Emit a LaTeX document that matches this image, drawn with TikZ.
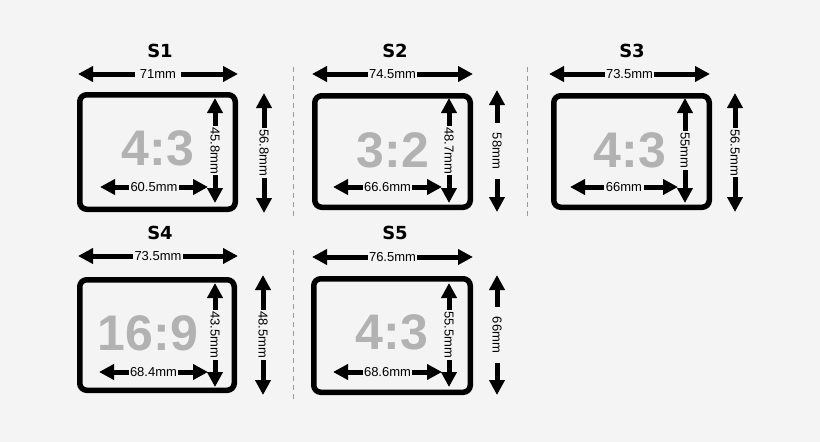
\documentclass[tikz,border=0pt]{standalone}
\usepackage{fontspec}
\setmainfont{Liberation Sans}
\newfontfamily\titlefont{DejaVu Sans}
\usetikzlibrary{arrows.meta}

\definecolor{bg}{HTML}{F4F4F4}
\definecolor{ratiogray}{HTML}{B2B2B2}
\definecolor{sepgray}{HTML}{9A9A9A}

\tikzset{
	dim/.style={line width=5pt,
		{Triangle[length=15pt,width=15pt]}-{Triangle[length=15pt,width=15pt]}},
	lab/.style={fill=bg, inner sep=1.5pt, font=\fontsize{13}{13}\selectfont},
	frame/.style={draw, line width=5.5pt, rounded corners=7pt, inner sep=0pt},
	ratio/.style={text=ratiogray, font=\bfseries\fontsize{50}{50}\selectfont},
	title/.style={font=\titlefont\bfseries\fontsize{18}{18}\selectfont},
	sep/.style={sepgray, line width=1pt, dash pattern=on 5pt off 4pt}
}

\begin{document}
\begin{tikzpicture}[x=1pt,y=-1pt]
	\fill[bg] (0,0) rectangle (820,442);
	\useasboundingbox (0,0) rectangle (820,442);

	% separators
	\draw[sep] (293,67) -- (293,217);
	\draw[sep] (527,67) -- (527,217);
	\draw[sep] (293,250) -- (293,402);

	% S1
	\node[title] (t1) at (160,51) {S1};
	\node[frame, minimum width=155.5pt, minimum height=114.5pt] (b1) at (157.5,152) {};
	\node[ratio] (r1) at (158,148) {4:3};
	\draw[dim] (78,74) coordinate (w1a) -- (238,74) coordinate (w1b) node[midway,lab,inner xsep=5pt] {71mm};
	\draw[dim] (264,93) coordinate (h1a) -- (264,213) coordinate (h1b) node[midway,lab,rotate=-90] {56.8mm};
	\draw[dim] (215,98) coordinate (v1a) -- (215,203) coordinate (v1b) node[midway,lab,rotate=-90] {45.8mm};
	\draw[dim] (100,187) coordinate (i1a) -- (208,187) coordinate (i1b) node[midway,lab] {60.5mm};

	% S2
	\node[title] (t2) at (395,51) {S2};
	\node[frame, minimum width=155.5pt, minimum height=111.5pt] (b2) at (392.5,151.5) {};
	\node[ratio] (r2) at (393,150) {3:2};
	\draw[dim] (312,74) coordinate (w2a) -- (473,74) coordinate (w2b) node[midway,lab] {74.5mm};
	\draw[dim] (497,90) coordinate (h2a) -- (497,212) coordinate (h2b) node[midway,lab,rotate=-90,inner xsep=10pt] {58mm};
	\draw[dim] (449,98) coordinate (v2a) -- (449,203) coordinate (v2b) node[midway,lab,rotate=-90] {48.7mm};
	\draw[dim] (333,187) coordinate (i2a) -- (442,187) coordinate (i2b) node[midway,lab] {66.6mm};

	% S3
	\node[title] (t3) at (632,51) {S3};
	\node[frame, minimum width=155.5pt, minimum height=111.5pt] (b3) at (631.5,151.5) {};
	\node[ratio] (r3) at (630,150) {4:3};
	\draw[dim] (549,74) coordinate (w3a) -- (710,74) coordinate (w3b) node[midway,lab] {73.5mm};
	\draw[dim] (735,93) coordinate (h3a) -- (735,212) coordinate (h3b) node[midway,lab,rotate=-90] {56.5mm};
	\draw[dim] (685,98) coordinate (v3a) -- (685,203) coordinate (v3b) node[midway,lab,rotate=-90] {55mm};
	\draw[dim] (570,187) coordinate (i3a) -- (678,187) coordinate (i3b) node[midway,lab] {66mm};

	% S4
	\node[title] (t4) at (160,233) {S4};
	\node[frame, minimum width=154.5pt, minimum height=110.5pt] (b4) at (157,335) {};
	\node[ratio] (r4) at (148,333) {16:9};
	\draw[dim] (78,256) coordinate (w4a) -- (238,256) coordinate (w4b) node[midway,lab] {73.5mm};
	\draw[dim] (263,275) coordinate (h4a) -- (263,395) coordinate (h4b) node[midway,lab,rotate=-90] {48.5mm};
	\draw[dim] (215,283) coordinate (v4a) -- (215,387) coordinate (v4b) node[midway,lab,rotate=-90] {43.5mm};
	\draw[dim] (99,372) coordinate (i4a) -- (208,372) coordinate (i4b) node[midway,lab] {68.4mm};

	% S5
	\node[title] (t5) at (395,233) {S5};
	\node[frame, minimum width=156.5pt, minimum height=113.5pt] (b5) at (392,335.5) {};
	\node[ratio] (r5) at (392,332) {4:3};
	\draw[dim] (312,257) coordinate (w5a) -- (473,257) coordinate (w5b) node[midway,lab] {76.5mm};
	\draw[dim] (497,275) coordinate (h5a) -- (497,395) coordinate (h5b) node[midway,lab,rotate=-90,inner xsep=10pt] {66mm};
	\draw[dim] (449,283) coordinate (v5a) -- (449,387) coordinate (v5b) node[midway,lab,rotate=-90] {55.5mm};
	\draw[dim] (333,372) coordinate (i5a) -- (442,372) coordinate (i5b) node[midway,lab] {68.6mm};
\end{tikzpicture}
\end{document}
